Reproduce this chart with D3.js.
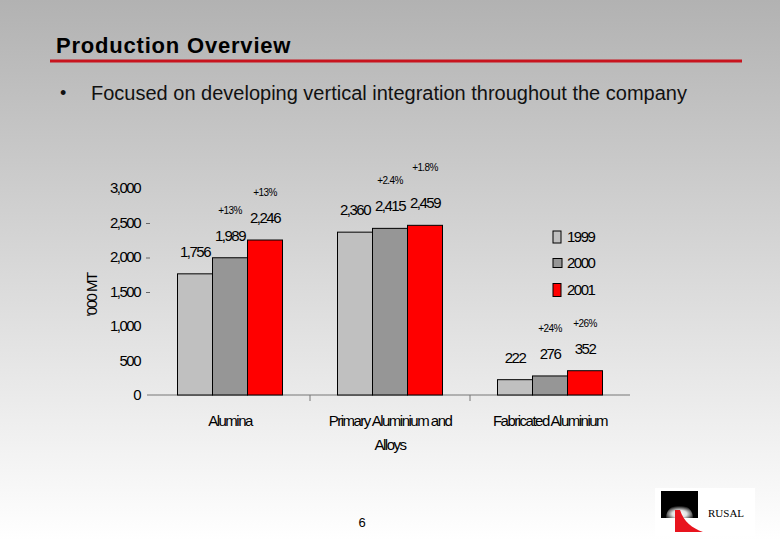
<!DOCTYPE html>
<html><head><meta charset="utf-8">
<script src="https://cdn.jsdelivr.net/npm/d3@7/dist/d3.min.js"></script>
<style>
html,body{margin:0;padding:0;}
svg{display:block;}
</style></head>
<body>
<svg id="c" width="780" height="540"></svg>
<script>
const categories = ["Alumina", "Primary Aluminium and Alloys", "Fabricated Aluminium"];
const categoryLines = [["Alumina"], ["Primary Aluminium and", "Alloys"], ["Fabricated Aluminium"]];
const years = ["1999", "2000", "2001"];
const values1999 = [1756, 2360, 222];
const values2000 = [1989, 2415, 276];
const values2001 = [2246, 2459, 352];
const valueLabels1999 = ["1,756", "2,360", "222"];
const valueLabels2000 = ["1,989", "2,415", "276"];
const valueLabels2001 = ["2,246", "2,459", "352"];
const growth2000 = ["+13%", "+2.4%", "+24%"];
const growth2001 = ["+13%", "+1.8%", "+26%"];
const yTicks = [0, 500, 1000, 1500, 2000, 2500, 3000];
const colors = ["#c0c0c0", "#969696", "#ff0000"];

const svg = d3.select("#c");
const defs = svg.append("defs");
const g = defs.append("linearGradient").attr("id","bg").attr("x1",0).attr("y1",0).attr("x2",0).attr("y2",1);
g.append("stop").attr("offset","0%").attr("stop-color","#b2b2b2");
g.append("stop").attr("offset","100%").attr("stop-color","#ffffff");
svg.append("rect").attr("width",780).attr("height",540).attr("fill","url(#bg)");

// Title
svg.append("text").attr("x",56).attr("y",53).text("Production Overview")
  .attr("font-family","Liberation Sans, Arial, sans-serif").attr("font-size",22).attr("font-weight","bold")
  .attr("letter-spacing","0.8px").attr("fill","#000");
svg.append("line").attr("x1",50).attr("x2",742).attr("y1",61).attr("y2",61).attr("stroke","#c8141e").attr("stroke-width",3);
svg.append("text").attr("x",60).attr("y",99).text("•")
  .attr("font-family","Liberation Sans, Arial, sans-serif").attr("font-size",18).attr("fill","#111");
svg.append("text").attr("x",91).attr("y",100).text("Focused on developing vertical integration throughout the company")
  .attr("font-family","Liberation Sans, Arial, sans-serif").attr("font-size",20).attr("fill","#111");

const series = [values1999, values2000, values2001];
const labels = [valueLabels1999, valueLabels2000, valueLabels2001];

const x0 = d3.scaleBand().domain(categories).range([150, 630]);
const x1 = d3.scaleBand().domain(years).range([0, 105]);
const inset = (x0.bandwidth() - 105) / 2;
const y = d3.scaleLinear().domain([0, 3000]).range([395, 188]);

const font = "Liberation Sans, Arial, sans-serif";

// y axis
const yAxis = svg.append("g").attr("transform","translate(150,0)")
  .call(d3.axisLeft(y).tickValues(yTicks).tickSize(0).tickPadding(10).tickFormat(d3.format(",")));
yAxis.select(".domain").remove();
yAxis.selectAll("text").attr("font-family",font).attr("font-size",15).attr("letter-spacing","-1.5px").attr("fill","#000");
svg.selectAll(".ydash").data([1500,2000,2500]).enter().append("line")
  .attr("x1",146).attr("x2",150).attr("y1",d=>y(d)+1).attr("y2",d=>y(d)+1).attr("stroke","#666");

svg.append("text").attr("transform",`translate(97,${y(1450)}) rotate(-90)`).attr("text-anchor","middle")
  .attr("font-family",font).attr("font-size",15).attr("letter-spacing","-1.5px").text("'000 MT");

// x axis
svg.append("line").attr("x1",147).attr("x2",630).attr("y1",y(0)).attr("y2",y(0)).attr("stroke","#777");
svg.selectAll(".xt").data(categories.slice(1)).enter().append("line")
  .attr("x1",d=>x0(d)).attr("x2",d=>x0(d)).attr("y1",y(0)).attr("y2",y(0)+6).attr("stroke","#777");

// bars
categories.forEach((cat, ci) => {
  years.forEach((yr, si) => {
    const bx = x0(cat) + inset + x1(yr);
    const v = series[si][ci];
    svg.append("rect").attr("x",bx).attr("y",y(v)).attr("width",x1.bandwidth()).attr("height",y(0)-y(v))
      .attr("fill",colors[si]).attr("stroke","#000").attr("stroke-width",1);
    svg.append("text").attr("x",bx + x1.bandwidth()/2).attr("y",y(v)-17).attr("text-anchor","middle")
      .attr("font-family",font).attr("font-size",15).attr("letter-spacing","-1.5px").attr("fill","#000").text(labels[si][ci]);
    const gr = si === 1 ? growth2000[ci] : si === 2 ? growth2001[ci] : null;
    if (gr) {
      svg.append("text").attr("x",bx + x1.bandwidth()/2).attr("y",y(v)-44 - (si===2 && ci===1 ? 10 : 0)).attr("text-anchor","middle")
        .attr("font-family",font).attr("font-size",10).attr("letter-spacing","-0.6px").attr("fill","#000").text(gr);
    }
  });
  categoryLines[ci].forEach((ln, li) => {
    svg.append("text").attr("x",x0(cat)+x0.bandwidth()/2).attr("y",426 + li*24).attr("text-anchor","middle")
      .attr("font-family",font).attr("font-size",15).attr("letter-spacing","-1.5px").attr("fill","#000").text(ln);
  });
});

// legend
const legY = [237, 263, 290];
const legSizes = [[8,12],[9,9],[8,13]];
years.forEach((yr, i) => {
  svg.append("rect").attr("x",553).attr("y",legY[i]-legSizes[i][1]/2).attr("width",legSizes[i][0]).attr("height",legSizes[i][1])
    .attr("fill",colors[i]).attr("stroke","#000").attr("stroke-width",1);
  svg.append("text").attr("x",567).attr("y",legY[i]+5).attr("font-family",font).attr("font-size",15)
    .attr("letter-spacing","-1.5px").attr("fill","#000").text(yr);
});

// page number
svg.append("text").attr("x",362).attr("y",527).attr("text-anchor","middle").attr("font-family",font).attr("font-size",13).text("6");

// logo
svg.append("rect").attr("x",655).attr("y",488).attr("width",100).attr("height",48).attr("fill","#ffffff");
const lg = defs.append("radialGradient").attr("id","lg").attr("cx","50%").attr("cy","70%").attr("r","60%");
lg.append("stop").attr("offset","0%").attr("stop-color","#ffffff");
lg.append("stop").attr("offset","45%").attr("stop-color","#e0e0e0");
lg.append("stop").attr("offset","100%").attr("stop-color","#000000");
svg.append("rect").attr("x",661).attr("y",491).attr("width",37).attr("height",27).attr("fill","#000");
svg.append("path").attr("d","M666,518 A13,13 0 0,1 693,518 Z").attr("fill","url(#lg)");
svg.append("path").attr("d","M675,510 L680,510 C684,522 692,528 703,532 L675,532 Z").attr("fill","#e8141e");
svg.append("text").attr("x",708).attr("y",517).attr("font-family","Liberation Serif, Times New Roman, serif")
  .attr("font-size",11).attr("fill","#000").text("RUSAL");
</script>
</body></html>
